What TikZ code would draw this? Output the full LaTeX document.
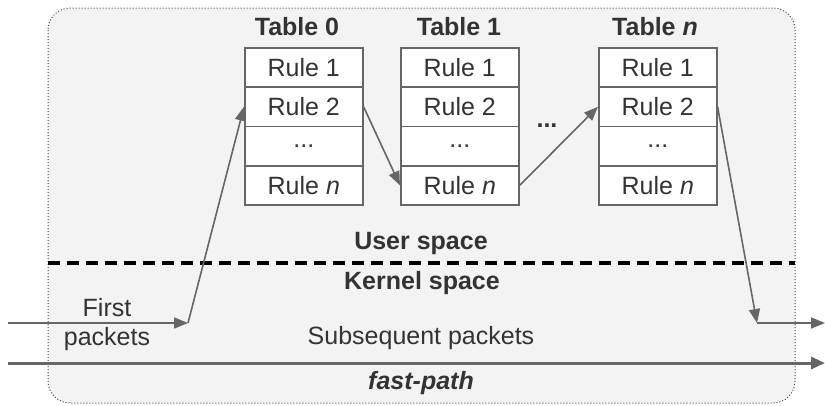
\documentclass[tikz,border=0pt]{standalone}
\usepackage{fontspec}
\setmainfont{Liberation Sans}
\usetikzlibrary{arrows.meta}
\definecolor{bgfill}{HTML}{F3F3F3}
\definecolor{txt}{HTML}{333333}
\definecolor{wire}{HTML}{666666}
\tikzset{
  rulebox/.style={draw=wire, line width=1.6pt, fill=white, text=txt,
    minimum width=118pt, minimum height=39.3pt, inner sep=0pt, anchor=north west,
    font=\fontsize{25}{30}\selectfont},
  title/.style={text=txt, font=\fontsize{25}{30}\selectfont\bfseries, inner sep=0pt},
  label/.style={text=txt, font=\fontsize{25}{29}\selectfont, inner sep=0pt, align=center},
  flow/.style={draw=wire, line width=1.6pt, -{Triangle[length=14pt,width=11pt]}},
  plain/.style={draw=wire, line width=1.6pt},
  fast/.style={draw=wire, line width=3pt, -{Triangle[length=14pt,width=12pt]}},
}
\begin{document}
\begin{tikzpicture}[x=1pt,y=-1pt]
\useasboundingbox (0,0) rectangle (825,405);
% outer area
\draw[fill=bgfill, draw=black!70, dotted, line width=1pt, rounded corners=22pt]
  (48,8) rectangle (795,403);
% user / kernel boundary
\draw[black, line width=3.5pt, dash pattern=on 12pt off 7pt] (48,263) -- (795,263);

% tables
\foreach \t/\x in {0/244,1/400,n/598}{
  \node[rulebox] (t\t r1) at (\x,47) {Rule 1};
  \node[rulebox] (t\t r2) at (\x,86.3) {Rule 2};
  \node[rulebox] (t\t r3) at (\x,125.6) {...};
  \node[rulebox] (t\t r4) at (\x,164.9) {Rule \textit{n}};
}
\node[title] (h0) at (297,27) {Table 0};
\node[title] (h1) at (459,27) {Table 1};
\node[title] (hn) at (655,27) {Table \textit{n}};
\node[title] (gap) at (547,126) {...};

\node[title] (user) at (421,243) {User space};
\node[title] (kern) at (422,283) {Kernel space};
\node[label] (first) at (107,325) {First\\packets};
\node[label] (subs) at (421,338) {Subsequent packets};
\node[title] (fp) at (421,383) {\textit{fast-path}};

% connector points
\coordinate (inA) at (8,323);
\coordinate (bend) at (188,323);
\coordinate (back) at (757,323);
\coordinate (outA) at (825,323);
\coordinate (inB) at (8,363);
\coordinate (outB) at (825,363);

% slow path through the tables
\draw[flow] (inA) -- (bend);
\draw[flow] (bend) -- (t0r2.west);
\draw[flow] (t0r2.east) -- (t1r4.west);
\draw[flow] (t1r4.east) -- (tnr2.west);
\draw[flow] (tnr2.east) -- (back);
\draw[flow] (back) -- (outA);
% fast path
\draw[fast] (inB) -- (outB);
\end{tikzpicture}
\end{document}
